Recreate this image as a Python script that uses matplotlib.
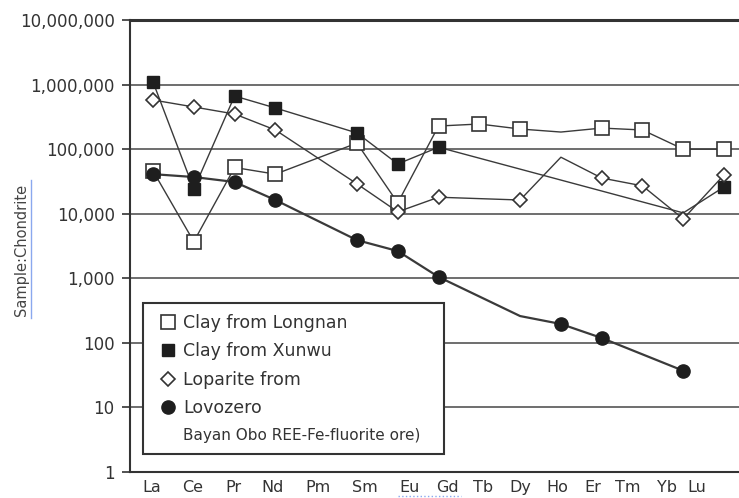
import matplotlib
matplotlib.use("Agg")
import matplotlib.pyplot as plt
from matplotlib.lines import Line2D
from matplotlib.patches import Rectangle
from matplotlib.ticker import FixedLocator, FuncFormatter, NullLocator

# REE elements (x categories) and their tick labels
elements = ["La", "Ce", "Pr", "Nd", "Pm", "Sm", "Eu", "Gd", "Tb", "Dy", "Ho", "Er", "Tm", "Yb", "Lu"]
# label positions do not sit exactly under the points in the original figure
label_pos = [-0.02, 0.98, 1.96, 2.94, 4.05, 5.20, 6.30, 7.23, 8.09, 9.0, 9.9, 10.79, 11.64, 12.6, 13.34]

# sample / chondrite values (None = not measured)
longnan = [46000, 3700, 52000, 41000, None, 124000, 14700, 228000, 245000, 205000, 184000, 212000, 198000, 100000, 100000]
xunwu = [1100000, 24000, 665000, 434000, None, 178000, 59000, 107000, None, None, None, None, None, 10300, 26000]
loparite = [577000, 450000, 350000, 198000, None, 29000, 10700, 18000, None, 16300, 75000, 35700, 27000, 8300, 40000]
lovozero = [41000, 37000, 31000, 16300, None, 3900, 2640, 1050, None, 260, 196, 119, None, 37, None]

# points drawn on the line but without a marker
unmarked = {
    "longnan": ["Ho"],
    "xunwu": ["Yb"],
    "loparite": ["Ho"],
    "lovozero": ["Dy"],
}

legend_labels = ["Clay from Longnan", "Clay from Xunwu", "Loparite from", "Lovozero",
                 "Bayan Obo REE-Fe-fluorite ore)"]

dark = "#333333"
line_c = "#3a3a3a"

styles = {
    "longnan": dict(marker="s", ms=9.5, mfc="white", mec=dark, mew=1.2, lw=1.0),
    "xunwu": dict(marker="s", ms=9.0, mfc="#1e1e1e", mec="#1e1e1e", mew=1.0, lw=1.0),
    "loparite": dict(marker="D", ms=7.6, mfc="white", mec=dark, mew=1.2, lw=1.0),
    "lovozero": dict(marker="o", ms=9.5, mfc="#1e1e1e", mec="#1e1e1e", mew=1.0, lw=1.6),
}
series = {"longnan": longnan, "xunwu": xunwu, "loparite": loparite, "lovozero": lovozero}

fig = plt.figure(figsize=(7.39, 4.98), dpi=100)
ax = fig.add_axes([130 / 739, 26 / 498, 609 / 739, 452 / 498])

for name, vals in series.items():
    xs = [i for i, v in enumerate(vals) if v is not None]
    ys = [vals[i] for i in xs]
    marks = [k for k, i in enumerate(xs) if elements[i] not in unmarked[name]]
    ax.plot(xs, ys, color=line_c, markevery=marks, zorder=3, **styles[name])

ax.set_yscale("log")
ax.set_ylim(1, 1e7)
ax.set_xlim(-0.564, 14.366)

ax.yaxis.set_major_locator(FixedLocator([10 ** k for k in range(8)]))
ax.yaxis.set_minor_locator(NullLocator())
ax.yaxis.set_major_formatter(FuncFormatter(lambda v, p: f"{int(round(v)):,}"))
ax.yaxis.grid(True, color="#555555", lw=1.2)
ax.set_axisbelow(True)

ax.set_xticks(label_pos)
ax.set_xticklabels(elements)
ax.tick_params(axis="x", length=0, pad=6, labelsize=11.5, labelcolor=dark)
ax.tick_params(axis="y", direction="out", length=6, width=1.2, color=dark,
               labelsize=12, labelcolor=dark, pad=5)

for side in ["left", "bottom"]:
    ax.spines[side].set_color(dark)
    ax.spines[side].set_linewidth(1.5)
ax.spines["top"].set_color(dark)
ax.spines["top"].set_linewidth(2.2)
ax.spines["right"].set_visible(False)

# legend box (white, hides the gridlines behind it)
ax.add_patch(Rectangle(((143 - 130) / 609, (472 - 454) / 452), 301 / 609, 151 / 452,
                       transform=ax.transAxes, facecolor="white", edgecolor=dark,
                       lw=1.5, zorder=4.5))

handles = []
for name in series:
    st = styles[name]
    handles.append(Line2D([], [], ls="none", marker=st["marker"], ms=st["ms"],
                          mfc=st["mfc"], mec=st["mec"], mew=st["mew"]))
handles.append(Line2D([], [], ls="none"))

leg = ax.legend(handles, legend_labels, loc="upper left",
                bbox_to_anchor=((160 - 130) / 609, (472 - 314) / 452),
                frameon=False, fontsize=12.5, handlelength=0.9, handletextpad=0.45,
                labelspacing=0.6, borderpad=0, borderaxespad=0)
leg.set_zorder(6)
for t in leg.get_texts():
    t.set_color(dark)
leg.get_texts()[4].set_fontsize(11)

fig.text(22 / 739, 1 - 250 / 498, "Sample:Chondrite", rotation=90, ha="center",
         va="center", fontsize=10.5, color="#444444")

# blue underlines seen in the source image
fig.add_artist(Line2D([31 / 739, 31 / 739], [1 - 180 / 498, 1 - 318 / 498],
                      transform=fig.transFigure, color="#8aa8ee", lw=1.0))
fig.add_artist(Line2D([398 / 739, 461 / 739], [1 - 496 / 498, 1 - 496 / 498],
                      transform=fig.transFigure, color="#8aa8ee", lw=1.0, ls=":"))

fig.savefig("out.png", dpi=100)
